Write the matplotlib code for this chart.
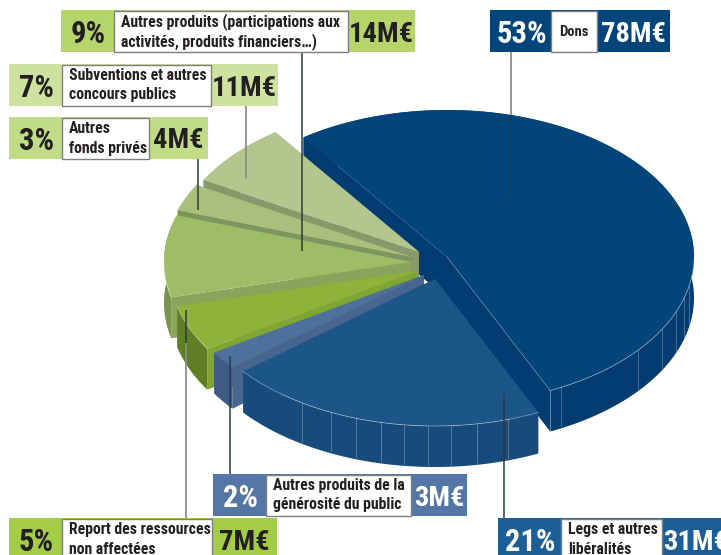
#!/usr/bin/env python3
"""Ressources pie, drawn as an exploded 3D-look disc."""

import logging

import matplotlib
matplotlib.use("Agg")
import matplotlib.pyplot as plt
import numpy as np
from matplotlib.patches import Polygon, Rectangle

logging.getLogger("matplotlib.font_manager").setLevel(logging.ERROR)

# clockwise from the top-left edge of "Dons"
percents = [53, 21, 2, 5, 9, 3, 7]
amounts = ["78M€", "31M€", "3M€", "7M€", "14M€", "4M€", "11M€"]
labels = [
    ["Dons"],
    ["Legs et autres", "libéralités"],
    ["Autres produits de la", "générosité du public"],
    ["Report des ressources", "non affectées"],
    ["Autres produits (participations aux", "activités, produits financiers…)"],
    ["Autres", "fonds privés"],
    ["Subventions et autres", "concours publics"],
]

top_colors = ["#02457b", "#1c5688", "#4d709c", "#8db33b", "#9fbd66", "#a9c07d", "#b3c68d"]
face_colors = ["#023c70", "#174b7c", "#47668f", "#80a535", "#8ba45c", "#7f9560", "#87986a"]
rim_colors = ["#023c70", "#174b7c", "#3e5a85", "#5f7f25", "#7a9550", "#7a9550", "#87986a"]
box_colors = ["#02457b", "#1c5f96", "#5376a6", "#a5cc47", "#b5d56b", "#c1dc86", "#cde29f"]
text_colors = ["white", "white", "white", "#231f20", "#231f20", "#231f20", "#231f20"]

# layout, in pixels
apexes = [(447, 257), (435, 279), (424, 275), (417, 271), (411, 262), (412, 257), (419, 252)]
RX, RY, DEPTH = 247, 147, 41
START = 125.5
draw_order = [0, 6, 5, 4, 3, 2, 1]
# x0, x1, white x0, white x1, y0, y1
boxes = [
    (490, 670, 551, 597, 10, 52),
    (498, 730, 561, 662, 518, 560),
    (213, 467, 266, 411, 474, 516),
    (9, 277, 62, 212, 518, 560),
    (61, 415, 114, 348, 10, 52),
    (9, 208, 62, 149, 117, 159),
    (9, 278, 62, 211, 64, 106),
]
# x, grey from, grey to, dark from, dark to
leaders = [
    (511, 52, 115, 115, 196),
    (504, 394, 394, 394, 518),
    (230, 356, 356, 356, 474),
    (186, 343, 518, 310, 343),
    (302, 52, 52, 52, 251),
    (198, 159, 159, 159, 210),
    (246, 106, 179, 106, 106),
]
facets = [
    (1, [302, 331, 356, 381, 404, 428, 451, 477, 508]),
    (0, [561, 638, 662, 676, 684, 689]),
]

FONT = ["Roboto Condensed", "Archivo Narrow", "Liberation Sans", "DejaVu Sans"]

fig = plt.figure(figsize=(7.21, 5.55), dpi=100, facecolor="white")
ax = fig.add_axes([0, 0, 1, 1])
ax.set_xlim(0, 721)
ax.set_ylim(555, 0)
ax.axis("off")


def arc(i, a0, a1):
    t = np.radians(np.linspace(a0, a1, 120))
    x0, y0 = apexes[i]
    return np.column_stack([x0 + RX * np.cos(t), y0 - RY * np.sin(t)])


spans = np.array(percents) * 3.6
starts = START - np.concatenate([[0], np.cumsum(spans)[:-1]])
ends = starts - spans

for i in draw_order:
    rim = arc(i, starts[i], ends[i])
    apex = np.array(apexes[i], dtype=float)
    shift = np.array([0, DEPTH])
    for edge in (rim[0], rim[-1]):
        ax.add_patch(Polygon([apex, edge, edge + shift, apex + shift], fc=face_colors[i], ec="none"))
    ax.add_patch(Polygon(np.vstack([rim, (rim + shift)[::-1]]), fc=rim_colors[i], ec="none"))
    ax.add_patch(Polygon(np.vstack([apex, rim]), fc=top_colors[i], ec="none"))
    # pale edge lines on the front of the big slices
    if i in (0, 1, 3, 4):
        front = rim[rim[:, 1] > apex[1]]
        ax.plot(front[:, 0], front[:, 1], color="white", alpha=0.4, lw=0.6)
    if i == 0:
        ax.plot([rim[-1, 0]] * 2, [rim[-1, 1], rim[-1, 1] + DEPTH], color="white", alpha=0.3, lw=0.6)
        ax.plot([apex[0], rim[-1, 0]], [apex[1], rim[-1, 1]], color="white", alpha=0.25, lw=0.5)
    for slice_i, xs in facets:
        if slice_i == i:
            for x in xs:
                u = (x - apex[0]) / RX
                y = apex[1] + RY * np.sqrt(max(1 - u * u, 0))
                ax.plot([x, x], [y, y + DEPTH - 2], color="white", alpha=0.3, lw=0.6)

for x, g0, g1, d0, d1 in leaders:
    ax.plot([x, x], [g0, g1], color="#8c8c8c", lw=1.3, solid_capstyle="butt", zorder=5)
    ax.plot([x, x], [d0, d1], color="#2b3a45", lw=1.1, solid_capstyle="butt", zorder=6)

for i, (x0, x1, w0, w1, y0, y1) in enumerate(boxes):
    ax.add_patch(Rectangle((x0, y0), x1 - x0, y1 - y0, fc=box_colors[i], ec="none", zorder=7))
    ax.add_patch(Rectangle((w0, y0 + 0.5), w1 - w0, y1 - y0 - 1, fc="white", ec="#7f7f7f", lw=1.0, zorder=8))
    yc = y0 + 21
    ax.text((x0 + w0) / 2 + 1, yc, f"{percents[i]}%", color=text_colors[i], fontsize=22, fontweight="bold",
            family=FONT, ha="center", va="center_baseline", zorder=9)
    ax.text((w1 + x1) / 2, yc, amounts[i], color=text_colors[i], fontsize=20.5, fontweight="bold",
            family=FONT, ha="center", va="center_baseline", zorder=9)
    lines = labels[i]
    if len(lines) == 1:
        ax.text((w0 + w1) / 2, yc, lines[0], color="#231f20", fontsize=10.5, fontweight="bold",
                family=FONT, ha="center", va="center_baseline", zorder=9)
    else:
        for k, line in enumerate(lines):
            ax.text(w0 + 7, y0 + 10 + 19.5 * k, line, color="#231f20", fontsize=11.3, fontweight="bold",
                    family=FONT, ha="left", va="center_baseline", zorder=9)

fig.savefig("out.png", dpi=100, facecolor="white")
